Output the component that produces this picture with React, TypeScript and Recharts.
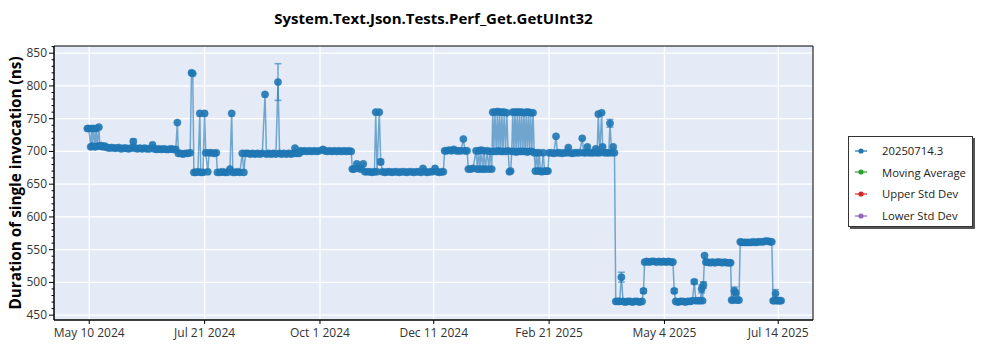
import React from 'react'
import {
  LineChart,
  Line,
  XAxis,
  YAxis,
  CartesianGrid,
  ErrorBar,
  ReferenceArea,
  Legend
} from 'recharts'

const FONT = "'Segoe UI', 'Open Sans', 'Noto Sans', sans-serif"
const MONTHS = ['Jan', 'Feb', 'Mar', 'Apr', 'May', 'Jun', 'Jul', 'Aug', 'Sep', 'Oct', 'Nov', 'Dec']
const DAY_MS = 86400000
const START = Date.UTC(2024, 4, 10) // day 0 = May 10 2024

const xTickDates = ['2024-05-10', '2024-07-21', '2024-10-01', '2024-12-11', '2025-02-21', '2025-05-04', '2025-07-14']
const yMajorTicks = [450, 500, 550, 600, 650, 700, 750, 800, 850]
const yMinorTicks = [
  450, 460, 470, 480, 490, 500, 510, 520, 530, 540, 550, 560, 570, 580, 590, 600, 610, 620, 630, 640,
  650, 660, 670, 680, 690, 700, 710, 720, 730, 740, 750, 760, 770, 780, 790, 800, 810, 820, 830, 840,
  850, 860
]

// days since May 10 2024
const runDays = [
  -1.2, -0.3, 0.9, 1.5, 1.9, 2.7, 3.6, 4.3, 5.0, 6.0, 6.6, 7.5, 8.5, 9.8, 11, 12.5, 14, 15.5, 17, 18.5,
  20, 21.5, 23, 24.5, 26, 27.5, 28.5, 30, 31.5, 33, 34.5, 36, 37.5, 39.5, 40.5, 42, 43.5, 45, 46.5, 48,
  49.5, 51, 52.5, 54, 55, 55.6, 57, 58.5, 60, 61.5, 63, 63.8, 64.6, 65.3, 66.5, 67.8, 69, 69.6, 71, 72,
  72.7, 74, 74.8, 76.3, 78, 79.3, 80, 81.5, 83, 84.5, 86, 87.8, 88.9, 89.6, 91, 92.5, 94, 95.5, 96.5, 97.5,
  99, 100.5, 102, 103.5, 105, 106.5, 108, 109.7, 110.6, 112, 113.5, 115, 116.5, 117.8, 118.8, 120, 121.5, 123,
  124.5, 126, 127.5, 128.4, 129.5, 131, 131.8, 133, 134.5, 136, 137.5, 139, 140.5, 142, 143.5, 145.9, 147, 148.5,
  150, 151.5, 153, 154.5, 156, 157.5, 159, 160.5, 162, 163.5, 164.2, 165.2, 167, 168, 169.5, 171, 172, 173.5,
  175, 176.5, 178, 178.8, 179.6, 181, 181.9, 183, 184.5, 186, 187.5, 189, 190.5, 192, 193.5, 195, 196.5, 198,
  199.5, 201, 202.5, 204, 205.5, 207, 208.3, 209.5, 211, 212.5, 214, 215.8, 217, 218.5, 220, 221, 221.8, 223,
  224.5, 226, 227.5, 229, 230.5, 232, 233.5, 234.5, 235.8, 236.6, 238, 239.5, 241.4, 242.2, 243, 243.8, 244.6, 245.6,
  246.4, 247.2, 248.4, 249.3, 250.2, 251.2, 251.8, 252.5, 253.2, 254, 254.7, 255.4, 256.1, 256.8, 257.5, 258.2, 259, 259.8,
  260.6, 261.4, 262.2, 263, 263.7, 264.3, 265, 265.7, 266.4, 267.1, 267.8, 268.5, 269.2, 269.9, 270.6, 271.3, 272, 272.7,
  273.4, 274.1, 274.8, 275.5, 276.2, 277, 277.7, 278.4, 279.2, 280, 280.8, 281.6, 282.4, 283.3, 284.2, 285.3, 286.3, 287,
  288.5, 290, 291.3, 292.2, 293.5, 295, 296.5, 298, 299, 300, 301.5, 303, 304.5, 306, 307.7, 308.6, 310, 310.9,
  312, 313.5, 315, 316.1, 317, 317.7, 318.6, 319.8, 320.4, 321.5, 323, 324.2, 325, 326, 327, 327.8, 328.6, 329.8,
  331, 332.1, 333.2, 334.5, 336, 337.5, 339, 340.5, 342, 343.5, 345, 345.9, 346.6, 348, 349.5, 351, 352.5, 354,
  355.5, 357, 358.5, 360, 361.5, 363, 364.3, 365.1, 366, 367.5, 369, 370.5, 372, 373.5, 375, 376.5, 377.6, 378.6,
  380, 381.3, 382.2, 382.8, 383.3, 384, 384.8, 386, 387.5, 389, 390.5, 392, 393.5, 395, 396.5, 398, 399.5, 400.3,
  400.9, 402, 402.6, 403.4, 404.3, 405.5, 406.3, 407.3, 408.7, 410, 411.5, 413, 414.5, 416, 417.5, 419, 420.5, 422,
  423.5, 425, 426, 426.8, 427.6, 428.3, 429.2, 430.2, 431.1, 431.8
]

// duration of single invocation (ns)
const durations = [
  735, 735, 707, 735, 708, 735, 707, 735, 708, 737, 708, 709, 707, 708, 706, 705, 706, 705, 705, 706,
  704, 705, 705, 704, 705, 715, 705, 704, 705, 704, 705, 704, 704, 710, 704, 703, 704, 703, 704, 703,
  703, 704, 703, 703, 744, 697, 697, 696, 697, 697, 698, 820, 819, 668, 668, 669, 758, 668, 668, 758,
  698, 669, 698, 698, 697, 698, 668, 668, 669, 668, 668, 673, 758, 668, 668, 669, 668, 697, 668, 697,
  697, 696, 697, 696, 697, 696, 697, 787, 696, 697, 696, 697, 696, 806, 697, 696, 697, 696,
  697, 696, 697, 705, 697, 697, 701, 700, 701, 700, 701, 700, 701, 700, 701, 703, 701, 700,
  701, 700, 701, 700, 701, 700, 701, 700, 701, 700, 673, 673, 681, 674, 673, 681, 669, 669,
  669, 668, 669, 760, 669, 760, 684, 669, 668, 669, 669, 668, 669, 669, 668, 669, 669, 668,
  669, 669, 668, 669, 669, 668, 674, 669, 668, 669, 669, 674, 669, 668, 669, 669, 701, 701,
  702, 701, 703, 701, 701, 701, 719, 701, 701, 673, 673, 674, 701, 673, 701, 673, 702, 673,
  701, 673, 701, 673, 700, 673, 760, 700, 760, 700, 761, 701, 760, 700, 760, 700, 760, 700,
  759, 701, 669, 670, 700, 760, 700, 760, 699, 760, 700, 760, 700, 760, 700, 759, 700, 760,
  699, 760, 700, 759, 700, 759, 698, 670, 698, 670, 698, 670, 669, 698, 670, 670, 670, 698,
  698, 697, 723, 698, 698, 697, 698, 698, 706, 698, 697, 698, 698, 698, 720, 698, 698, 707,
  698, 698, 698, 704, 698, 757, 698, 759, 707, 698, 698, 698, 743, 698, 707, 698, 471, 471,
  471, 508, 471, 470, 471, 471, 470, 471, 471, 470, 471, 487, 531, 532, 531, 532, 532, 531,
  532, 531, 532, 531, 532, 531, 531, 487, 471, 470, 471, 471, 470, 471, 471, 472, 501, 472,
  472, 472, 490, 472, 496, 541, 531, 531, 530, 531, 530, 531, 531, 530, 531, 530, 530, 530,
  473, 473, 487, 484, 473, 473, 562, 561, 561, 561, 561, 561, 562, 561, 562, 562, 562, 563,
  563, 562, 562, 472, 472, 483, 472, 472, 472, 472
]

const errDays = [27.5, 117.8, 181.9, 325, 332.1, 345.9, 365.1, 377.6, 382.2, 383.3, 402.6, 428.3]
const errSizes = [4, 28, 4, 6, 7.5, 3, 3, 3, 6, 5, 6, 6]

const seriesNames = ['20250714.3', 'Moving Average', 'Upper Std Dev', 'Lower Std Dev']
const seriesKeys = ['ns', 'movingAverage', 'upperStd', 'lowerStd']
const seriesColors = ['#1f77b4', '#2ca02c', '#d62728', '#9467bd']

const rows = runDays.map((day, i) => {
  const e = errDays.indexOf(day)
  return { day, ns: durations[i], err: e >= 0 ? errSizes[e] : undefined }
})

const tickDay = (iso: string) => (Date.parse(iso) - START) / DAY_MS
const xTicks = xTickDates.map(tickDay)
const formatDay = (d: number) => {
  const dt = new Date(START + Math.round(d) * DAY_MS)
  return `${MONTHS[dt.getUTCMonth()]} ${dt.getUTCDate()} ${dt.getUTCFullYear()}`
}

const X_DOMAIN: [number, number] = [-22, 451.7]
const Y_DOMAIN: [number, number] = [442.6, 861]

function YTick(props: any) {
  const { x, y, payload } = props
  const major = yMajorTicks.includes(payload.value)
  const edge = x + 7
  return (
    <g>
      <line x1={edge - (major ? 5 : 2.5)} x2={edge} y1={y} y2={y} stroke="#000" />
      {major && (
        <text x={x} y={y} dy={4} textAnchor="end" fontSize={12} fill="#333" fontFamily={FONT}>
          {payload.value}
        </text>
      )}
    </g>
  )
}

// keep the series order as drawn (recharts sorts its payload)
function LegendBox() {
  return (
    <div
      style={{
        width: 125,
        height: 91,
        boxSizing: 'border-box',
        background: '#fff',
        border: '1px solid #333',
        boxShadow: '2px 2px 0 #555',
        paddingTop: 3,
        fontFamily: FONT,
        fontSize: 11.3
      }}
    >
      {seriesNames.map((name, i) => (
        <div key={name} style={{ height: 21.6, display: 'flex', alignItems: 'center', whiteSpace: 'nowrap' }}>
          <svg width={33} height={10} style={{ flex: 'none' }}>
            <line x1={6} x2={18} y1={5} y2={5} stroke={seriesColors[i]} strokeWidth={1.2} />
            <circle cx={12} cy={5} r={2.6} fill={seriesColors[i]} />
          </svg>
          <span style={{ color: '#222' }}>{name}</span>
        </div>
      ))}
    </div>
  )
}

export default function App() {
  return (
    <div style={{ position: 'absolute', left: 0, top: 0, width: 1000, height: 350, background: '#fff' }}>
      <div
        style={{
          position: 'absolute',
          left: 54,
          width: 759,
          top: 8,
          textAlign: 'center',
          fontFamily: FONT,
          fontWeight: 'bold',
          fontSize: 15
        }}
      >
        System.Text.Json.Tests.Perf_Get.GetUInt32
      </div>
      <div
        style={{
          position: 'absolute',
          left: 15,
          top: 183,
          transform: 'translate(-50%, -50%) rotate(-90deg)',
          whiteSpace: 'nowrap',
          fontFamily: FONT,
          fontWeight: 'bold',
          fontSize: 15.3
        }}
      >
        Duration of single invocation (ns)
      </div>
      <LineChart
        width={1000}
        height={350}
        data={rows}
        margin={{ top: 46, right: 187, bottom: 0, left: 0 }}
        style={{ position: 'absolute', left: 0, top: 0 }}
      >
        <CartesianGrid
          fill="#e5ebf6"
          stroke="#fff"
          strokeWidth={1.3}
          horizontalValues={yMajorTicks}
          verticalValues={xTicks}
        />
        <XAxis
          type="number"
          dataKey="day"
          domain={X_DOMAIN}
          allowDataOverflow
          ticks={xTicks}
          interval={0}
          tickFormatter={formatDay}
          height={30}
          tickSize={4}
          tickMargin={4}
          stroke="#000"
          tick={{ fill: '#333', fontSize: 12, fontFamily: FONT }}
        />
        <YAxis
          type="number"
          domain={Y_DOMAIN}
          allowDataOverflow
          ticks={yMinorTicks}
          interval={0}
          width={54}
          tickSize={5}
          tickMargin={2}
          tickLine={false}
          stroke="#000"
          tick={<YTick />}
        />
        <ReferenceArea
          x1={X_DOMAIN[0]}
          x2={X_DOMAIN[1]}
          y1={Y_DOMAIN[0]}
          y2={Y_DOMAIN[1]}
          fill="none"
          stroke="#000"
          strokeWidth={1}
          ifOverflow="visible"
        />
        {seriesKeys.map((key, i) =>
          i === 0 ? (
            <Line
              key={key}
              type="linear"
              dataKey={key}
              name={seriesNames[i]}
              stroke={seriesColors[i]}
              strokeOpacity={0.6}
              strokeWidth={1.5}
              dot={{ r: 3.6, fill: seriesColors[i], stroke: seriesColors[i], strokeWidth: 0.8, fillOpacity: 0.9 }}
              activeDot={false}
              isAnimationActive={false}
            >
              <ErrorBar dataKey="err" width={3.5} stroke={seriesColors[i]} strokeOpacity={0.6} strokeWidth={1.5} />
            </Line>
          ) : (
            <Line
              key={key}
              type="linear"
              dataKey={key}
              name={seriesNames[i]}
              stroke={seriesColors[i]}
              dot={false}
              activeDot={false}
              isAnimationActive={false}
            />
          )
        )}
        <Legend
          content={<LegendBox />}
          layout="horizontal"
          align="center"
          verticalAlign="middle"
          wrapperStyle={{ left: 848, top: 136, width: 125, height: 91 }}
        />
      </LineChart>
    </div>
  )
}
